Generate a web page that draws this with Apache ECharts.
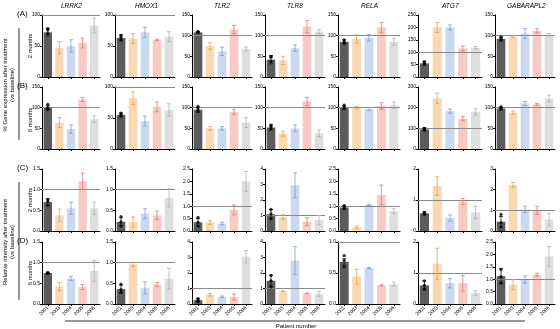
<!DOCTYPE html>
<html><head><meta charset="utf-8">
<script src="https://cdn.jsdelivr.net/npm/echarts@6/dist/echarts.min.js"></script>
<style>html,body{margin:0;padding:0;background:#fff}#c{width:560px;height:329px}</style>
</head><body><div id="c"></div><script>
const genes = ['LRRK2','HMOX1','TLR2','TLR8','RELA','ATG7','GABARAPL2'];
const patients = ['2001','2003','2004','2005','2006'];
const rowLabels = ['(A)','(B)','(C)','(D)'];
const refValues = [100,100,1,1];

// Row A: 2 months, % gene expression
const meansA = [[72,47,50,55,83],[63,62,72,60,65],[108,75,62,115,68],[42,40,70,122,110],[85,92,95,120,85],[55,200,200,115,118],[92,98,105,112,102]];
const errA   = [[6,10,10,8,12],[5,8,8,1,8],[2,8,10,10,5],[10,10,8,15,5],[5,10,8,12,8],[8,20,10,10,5],[5,2,12,5,3]];
const dotsA  = [[78,76,70],[67,64,60],[110,109,108],[50,48,38],[90,85,82],[62,58,52],[97,94,90]];
const yMaxA = [100,100,150,150,150,250,150];
const yIntA = [50,50,50,50,50,50,50];

// Row B: 6 months, % gene expression
const meansB = [[100,64,48,120,72],[55,82,45,68,63],[95,50,50,90,64],[52,37,50,115,38],[100,100,97,104,106],[95,245,183,147,180],[98,88,110,108,122]];
const errB   = [[5,12,10,5,8],[3,10,8,8,10],[6,4,4,6,12],[6,6,8,10,8],[5,3,4,8,8],[8,25,10,10,15],[3,4,5,2,8]];
const dotsB  = [[108,100,96],[58,56,53],[103,97,92],[58,55,50],[106,103,98],[100,96,92],[102,100,97]];
const yMaxB = [150,100,150,150,150,300,150];
const yIntB = [50,50,50,50,50,100,50];

// Row C: 2 months, relative intensity
const meansC = [[0.7,0.38,0.55,1.2,0.55],[0.22,0.22,0.42,0.38,0.8],[0.35,0.35,0.3,0.85,2.0],[1.08,0.9,2.95,0.6,0.7],[0.95,0.15,1.05,1.45,0.8],[0.57,1.45,0.42,0.95,0.6],[0.45,2.23,1.05,1.0,0.55]];
const errC   = [[0.08,0.15,0.15,0.2,0.15],[0.1,0.12,0.12,0.1,0.22],[0.15,0.08,0.05,0.2,0.4],[0.3,0.15,0.8,0.25,0.3],[0.08,0.05,0.03,0.4,0.1],[0.05,0.3,0.1,0.1,0.2],[0.25,0.12,0.15,0.2,0.3]];
const dotsC  = [[0.76,0.72,0.62],[0.35,0.22,0.12],[0.55,0.35,0.2],[1.4,1.1,0.8],[1.02,0.95,0.9],[0.6,0.57,0.55],[0.8,0.4,0.2]];
const yMaxC = [1.5,1.5,2.5,4,2.5,2,3];
const yIntC = [0.5,0.5,0.5,1,0.5,1,1];

// Row D: 6 months, relative intensity
const meansD = [[0.75,0.42,0.62,0.41,0.8],[0.36,0.96,0.39,0.47,0.61],[0.25,0.6,0.47,0.45,3.05],[1.5,0.83,2.8,0.68,0.65],[0.68,0.44,0.58,0.3,0.32],[0.6,1.3,0.67,0.67,0.35],[1.12,0.78,0.99,1.18,1.92]];
const errD   = [[0.02,0.1,0.05,0.06,0.25],[0.1,0.05,0.15,0.05,0.25],[0.1,0.08,0.05,0.2,0.4],[0.35,0.02,0.9,0.03,0.15],[0.05,0.12,0.01,0.01,0.03],[0.15,0.5,0.15,0.25,0.08],[0.3,0.2,0.15,0.06,0.4]];
const dotsD  = [[0.76,0.75,0.74],[0.48,0.35,0.28],[0.35,0.25,0.15],[1.85,1.5,1.1],[0.78,0.7,0.6],[0.75,0.6,0.48],[1.4,1.1,0.85]];
const yMaxD = [1.5,1.5,4,4,1.0,2,2.5];
const yIntD = [0.5,0.5,1,1,0.5,1,0.5];

const rows = [
  {means:meansA, err:errA, dots:dotsA, max:yMaxA, int:yIntA},
  {means:meansB, err:errB, dots:dotsB, max:yMaxB, int:yIntB},
  {means:meansC, err:errC, dots:dotsC, max:yMaxC, int:yIntC},
  {means:meansD, err:errD, dots:dotsD, max:yMaxD, int:yIntD}
];

const fillColors = ['#5b5b5b','#f7dab3','#cad8f0','#f7cbc4','#dedede'];
const lineColors = ['#111111','#e6a24e','#7c9fdb','#e47b6d','#b2b2b2'];
const FONT = 'Liberation Sans, Arial, sans-serif';

const colLeft = [42,115,192,265,338,418,495];
const colWidth = [58,60,60,60,62,64,60];
const rowTop = [15,87,169,242];
const rowH = 62;

const grid = [], xAxis = [], yAxis = [], series = [], graphic = [];
let idx = 0;
rows.forEach((row, r) => {
  genes.forEach((g, c) => {
    grid.push({left: colLeft[c], top: rowTop[r], width: colWidth[c], height: rowH});
    xAxis.push({
      gridIndex: idx, type: 'category', data: patients,
      axisLine: {lineStyle: {color: '#000', width: 1}},
      axisTick: {show: true, length: 2, alignWithLabel: true, lineStyle: {color: '#000'}},
      axisLabel: {show: r === 3, rotate: 45, fontSize: 5, margin: 3, color: '#000', fontFamily: FONT}
    });
    const intv = row.int[c];
    yAxis.push({
      gridIndex: idx, type: 'value', min: 0, max: row.max[c], interval: intv,
      axisLine: {show: true, lineStyle: {color: '#000', width: 1}},
      axisTick: {show: true, length: 2, lineStyle: {color: '#000'}},
      splitLine: {show: false},
      axisLabel: {fontSize: 5, margin: 2, color: '#000', fontFamily: FONT,
        formatter: v => intv < 1 ? v.toFixed(1) : String(Math.round(v))}
    });
    series.push({
      type: 'bar', xAxisIndex: idx, yAxisIndex: idx, barWidth: '72%', silent: true,
      data: row.means[c].map((v, i) => ({value: v, itemStyle: {color: fillColors[i]}})),
      markLine: {silent: true, symbol: 'none', animation: false,
        label: {show: false}, lineStyle: {color: '#8a8a8a', type: 'solid', width: 1},
        data: [{yAxis: refValues[r]}]}
    });
    const ebData = row.means[c].map((v, i) => [i, v - row.err[c][i], v + row.err[c][i]]);
    series.push({
      type: 'custom', xAxisIndex: idx, yAxisIndex: idx, silent: true, z: 5,
      data: ebData,
      renderItem: (params, api) => {
        const i = api.value(0);
        const lo = api.coord([i, api.value(1)]);
        const hi = api.coord([i, api.value(2)]);
        const hw = 2;
        const col = lineColors[i];
        return {type: 'group', children: [
          {type: 'line', shape: {x1: hi[0], y1: hi[1], x2: lo[0], y2: lo[1]}, style: {stroke: col, lineWidth: 0.8}},
          {type: 'line', shape: {x1: hi[0]-hw, y1: hi[1], x2: hi[0]+hw, y2: hi[1]}, style: {stroke: col, lineWidth: 0.8}},
          {type: 'line', shape: {x1: lo[0]-hw, y1: lo[1], x2: lo[0]+hw, y2: lo[1]}, style: {stroke: col, lineWidth: 0.8}}
        ]};
      }
    });
    series.push({
      type: 'scatter', xAxisIndex: idx, yAxisIndex: idx, silent: true, z: 6,
      symbolSize: 3.2, itemStyle: {color: '#000'},
      data: row.dots[c].map(v => [0, v])
    });
    idx++;
  });
});

genes.forEach((g, c) => {
  graphic.push({type: 'text', left: colLeft[c] + colWidth[c]/2 - g.length*2, top: 3,
    style: {text: g, font: 'italic 6.5px ' + FONT, fill: '#000'}});
});
const rlTop = [10, 82, 164, 237];
rowLabels.forEach((t, r) => {
  graphic.push({type: 'text', left: 17, top: rlTop[r], style: {text: t, font: '8px ' + FONT, fill: '#000'}});
});
const monthY = [46, 120, 200, 273];
const monthTxt = ['2 months','6 months','2 months','6 months'];
monthY.forEach((y, r) => {
  graphic.push({type: 'text', x: 30, y: y, rotation: Math.PI/2,
    style: {text: monthTxt[r], font: '6px ' + FONT, fill: '#000', align: 'center', verticalAlign: 'middle'}});
});
graphic.push({type: 'text', x: 9, y: 85, rotation: Math.PI/2,
  style: {text: '% Gene expression after treatment\n(vs baseline)', font: '6px ' + FONT, fill: '#000', align: 'center', verticalAlign: 'middle', lineHeight: 7}});
graphic.push({type: 'text', x: 9, y: 242, rotation: Math.PI/2,
  style: {text: 'Relative intensity after treatment\n(vs baseline)', font: '6px ' + FONT, fill: '#000', align: 'center', verticalAlign: 'middle', lineHeight: 7}});
graphic.push({type: 'line', shape: {x1: 19, y1: 28, x2: 19, y2: 140}, style: {stroke: '#000', lineWidth: 0.8}});
graphic.push({type: 'line', shape: {x1: 19, y1: 182, x2: 19, y2: 300}, style: {stroke: '#000', lineWidth: 0.8}});
graphic.push({type: 'line', shape: {x1: 65, y1: 321, x2: 525, y2: 321}, style: {stroke: '#000', lineWidth: 0.8}});
graphic.push({type: 'text', x: 296, y: 326, style: {text: 'Patient number', font: '6px ' + FONT, fill: '#000', align: 'center', verticalAlign: 'middle'}});

const chart = echarts.init(document.getElementById('c'), null, {renderer: 'canvas'});
chart.setOption({animation: false, backgroundColor: '#fff', grid, xAxis, yAxis, series, graphic});
</script></body></html>
